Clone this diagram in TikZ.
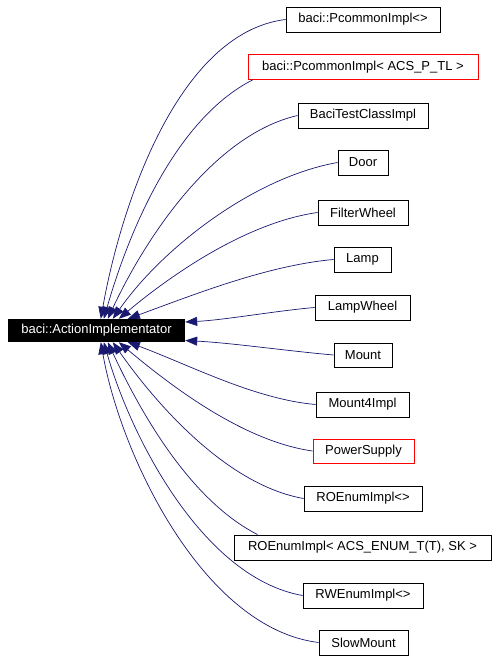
\documentclass[tikz,border=0pt]{standalone}
\usepackage{fontspec}
\setmainfont{Liberation Sans}
\usetikzlibrary{arrows.meta}
\definecolor{edgeblue}{RGB}{25,25,112}
\tikzset{>={Triangle[length=12pt,width=9pt]}}
\tikzset{
  cls/.style={draw, line width=0.9pt, minimum height=25pt, inner sep=0pt,
    font=\fontsize{13}{15}\selectfont},
  redcls/.style={cls, draw=red},
  basecls/.style={fill=black, text=white, minimum height=23pt, minimum width=177pt,
    inner sep=0pt, font=\fontsize{13}{15}\selectfont},
  inherit/.style={->, draw=edgeblue, line width=0.7pt, looseness=0.8}
}

\begin{document}
\begin{tikzpicture}[x=1pt,y=-1pt]
    \useasboundingbox (0,0) rectangle (499,661);
    % base class
    \node[basecls] (base) at (96.5,330.5) {baci::ActionImplementator};
    % derived classes
    \node[cls, minimum width=154pt] (pcommon) at (363,19.5) {baci::PcommonImpl<>};
    \node[redcls, minimum width=230pt] (pcommontl) at (363,67) {baci::PcommonImpl< ACS\_P\_TL >};
    \node[cls, minimum width=130pt] (bacitest) at (363,115.5) {BaciTestClassImpl};
    \node[cls, minimum width=50pt] (door) at (363,162.5) {Door};
    \node[cls, minimum width=90pt] (filterwheel) at (363,212.5) {FilterWheel};
    \node[cls, minimum width=57pt] (lamp) at (362.5,259.5) {Lamp};
    \node[cls, minimum width=95pt] (lampwheel) at (362.5,307.5) {LampWheel};
    \node[cls, minimum width=58pt, minimum height=24pt] (mount) at (363,355) {Mount};
    \node[cls, minimum width=93pt] (mountfour) at (362.5,404.5) {Mount4Impl};
    \node[redcls, minimum width=101pt, minimum height=24pt] (powersupply) at (363.5,451) {PowerSupply};
    \node[cls, minimum width=118pt] (roenum) at (363,498.5) {ROEnumImpl<>};
    \node[cls, minimum width=257pt] (roenumacs) at (362.5,547.5) {ROEnumImpl< ACS\_ENUM\_T(T), SK >};
    \node[cls, minimum width=120pt] (rwenum) at (363,595.5) {RWEnumImpl<>};
    \node[cls, minimum width=89pt] (slowmount) at (363.5,642.5) {SlowMount};
    % inheritance edges
    \draw[inherit] (pcommon.west) to[out=187,in=80] ([xshift=93pt]base.north west);
    \draw[inherit] ([xshift=5pt]pcommontl.south west) to[out=207,in=74] ([xshift=96pt]base.north west);
    \draw[inherit] (bacitest.west) to[out=193,in=65] ([xshift=100pt]base.north west);
    \draw[inherit] (door.west) to[out=190,in=55] ([xshift=105pt]base.north west);
    \draw[inherit] (filterwheel.west) to[out=188,in=40] ([xshift=111pt]base.north west);
    \draw[inherit] (lamp.west) to[out=185,in=20] ([xshift=120pt]base.north west);
    \draw[inherit] (lampwheel.west) to[out=185,in=3] ([yshift=8.5pt]base.east);
    \draw[inherit] (mount.west) to[out=175,in=-3] ([yshift=-10pt]base.east);
    \draw[inherit] (mountfour.west) to[out=175,in=-20] ([xshift=120pt]base.south west);
    \draw[inherit] (powersupply.west) to[out=172,in=-40] ([xshift=111pt]base.south west);
    \draw[inherit] (roenum.west) to[out=170,in=-55] ([xshift=105pt]base.south west);
    \draw[inherit] ([xshift=24pt]roenumacs.north west) to[out=153,in=-65] ([xshift=100pt]base.south west);
    \draw[inherit] (rwenum.west) to[out=170,in=-74] ([xshift=96pt]base.south west);
    \draw[inherit] (slowmount.west) to[out=173,in=-80] ([xshift=93pt]base.south west);
\end{tikzpicture}
\end{document}
